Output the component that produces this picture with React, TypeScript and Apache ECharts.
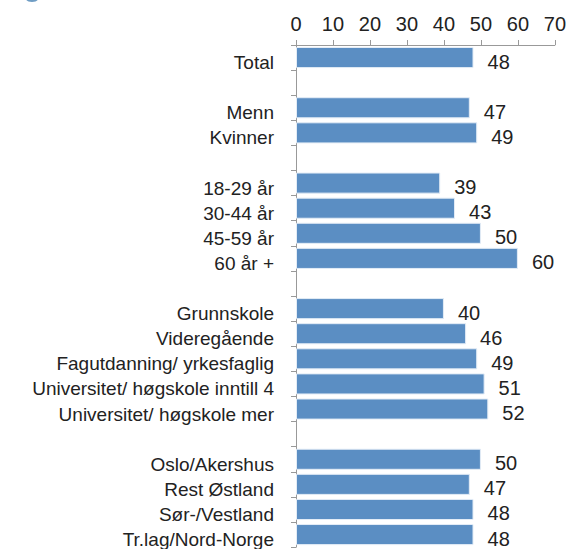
import React, { useEffect, useRef } from "react";
import * as echarts from "echarts";

const categories = [
  "Total", "",
  "Menn", "Kvinner", "",
  "18-29 år", "30-44 år", "45-59 år", "60 år +", "",
  "Grunnskole", "Videregående", "Fagutdanning/ yrkesfaglig", "Universitet/ høgskole inntill 4", "Universitet/ høgskole mer", "",
  "Oslo/Akershus", "Rest Østland", "Sør-/Vestland", "Tr.lag/Nord-Norge",
];
const values: (number | null)[] = [
  48, null,
  47, 49, null,
  39, 43, 50, 60, null,
  40, 46, 49, 51, 52, null,
  50, 47, 48, 48,
];
const xTicks = [0, 10, 20, 30, 40, 50, 60, 70];

export default function App() {
  const ref = useRef<HTMLDivElement>(null);
  useEffect(() => {
    if (!ref.current) return;
    const chart = echarts.init(ref.current, null, { renderer: "svg" });
    const font = "'Liberation Sans', Arial, sans-serif";
    chart.setOption({
      animation: false,
      backgroundColor: "#ffffff",
      grid: { left: 296, top: 45, right: 12, height: 505, containLabel: false },
      xAxis: {
        type: "value",
        position: "top",
        min: xTicks[0],
        max: xTicks[xTicks.length - 1],
        interval: 10,
        axisLine: { show: true, lineStyle: { color: "#999999", width: 1 } },
        axisTick: { show: true, length: 5, lineStyle: { color: "#999999" } },
        splitLine: { show: false },
        axisLabel: { color: "#222222", fontSize: 20, fontFamily: font, margin: 11 },
      },
      yAxis: {
        type: "category",
        inverse: true,
        data: categories,
        axisLine: { show: true, lineStyle: { color: "#999999", width: 1 } },
        axisTick: { show: true, length: 5, alignWithLabel: false, lineStyle: { color: "#999999" } },
        axisLabel: {
          color: "#222222",
          fontSize: 19,
          fontFamily: font,
          margin: 22,
          interval: 0,
          formatter: (v: string) => (v ? `{a|${v}}` : ""),
          rich: {
            a: {
              color: "#222222",
              fontSize: 19,
              fontFamily: font,
              padding: [10, 0, 0, 0],
            },
          },
        },
      },
      series: [
        {
          type: "bar",
          data: values,
          barCategoryGap: "16%",
          itemStyle: { color: "#5b8ec3", borderColor: "#e3ecf6", borderWidth: 1 },
          label: {
            show: true,
            position: "right",
            distance: 14,
            offset: [0, 4],
            color: "#222222",
            fontSize: 20,
            fontFamily: font,
          },
        },
      ],
      graphic: [
        { type: "ellipse", shape: { cx: 32, cy: -1, rx: 6, ry: 3 }, style: { fill: "#6f9dc4" } },
      ],
    });
    return () => chart.dispose();
  }, []);
  return (
    <div
      ref={ref}
      style={{ position: "fixed", left: 0, top: 0, width: 569, height: 549 }}
    />
  );
}
